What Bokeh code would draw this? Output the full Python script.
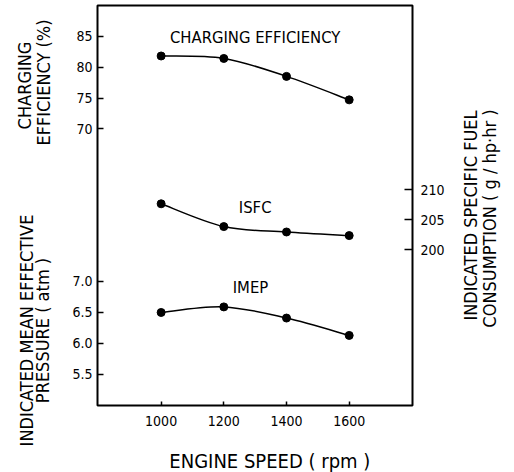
import numpy as np
from bokeh.plotting import figure
from bokeh.layouts import row, column
from bokeh.models import Range1d, LinearAxis, FixedTicker, Label
from bokeh.core.properties import value
from bokeh.embed import file_html
from bokeh.resources import INLINE

# ---- data ----
speed = [1000, 1200, 1400, 1600]
charging_eff = [81.8, 81.4, 78.5, 74.7]
isfc = [207.7, 203.9, 203.0, 202.4]
imep = [6.50, 6.59, 6.41, 6.13]
x_ticks = [1000, 1200, 1400, 1600]
ce_ticks = [70, 75, 80, 85]
imep_ticks = [5.5, 6.0, 6.5, 7.0]
isfc_ticks = [200, 205, 210]

FONT = "DejaVu Sans Condensed"
W, H = 514, 472
LW, RW = 56, 54            # side text panels
MW = W - LW - RW           # main figure width
MH, BH = 445, H - 445      # main figure height, bottom text panel height
BL, BR, BT, BB = 97 - LW, 460 - 412, 5, MH - 405

X0, X1 = 797, 1802
CE0, CE1 = 25.24, 89.97
IM0, IM1 = 5.0, 11.45
IS0, IS1 = 174.08, 240.75

p = figure(width=MW, height=MH, output_backend="svg", toolbar_location=None,
           x_range=Range1d(X0, X1), y_range=Range1d(CE0, CE1),
           min_border_left=BL, min_border_right=BR,
           min_border_top=BT, min_border_bottom=BB,
           x_axis_location=None, y_axis_location=None)
p.extra_y_ranges = {"imep": Range1d(IM0, IM1), "isfc": Range1d(IS0, IS1)}
p.grid.visible = False
p.outline_line_color = "black"
p.outline_line_width = 2
p.background_fill_color = "white"
p.border_fill_color = "white"


def style_axis(ax, tin, tout, standoff):
    ax.axis_line_color = None
    ax.major_tick_in = tin
    ax.major_tick_out = tout
    ax.major_tick_line_color = "black"
    ax.major_tick_line_width = 1.5
    ax.minor_tick_line_color = None
    ax.major_label_text_font = FONT
    ax.major_label_text_font_size = "14px"
    ax.major_label_text_color = "black"
    ax.major_label_standoff = standoff


# bottom axis
xa = LinearAxis(ticker=FixedTicker(ticks=x_ticks))
style_axis(xa, 4, 0, 10)
p.add_layout(xa, "below")


# left axis: charging efficiency ticks plus IMEP ticks mapped onto the same scale
def imep_to_ce(v):
    return CE0 + (v - IM0) / (IM1 - IM0) * (CE1 - CE0)


left_ticks = [float(v) for v in ce_ticks] + [imep_to_ce(v) for v in imep_ticks]
overrides = {float(v): str(v) for v in ce_ticks}
overrides.update({imep_to_ce(v): f"{v:.1f}" for v in imep_ticks})
ya = LinearAxis(ticker=FixedTicker(ticks=left_ticks), major_label_overrides=overrides)
style_axis(ya, 6, 0, 5)
p.add_layout(ya, "left")

# right axis: ISFC
ra = LinearAxis(y_range_name="isfc", ticker=FixedTicker(ticks=isfc_ticks))
style_axis(ra, 8, 0, 8)
p.add_layout(ra, "right")


# smooth curves (Catmull-Rom -> cubic Bezier) through the data points
def bezier_curve(xs, ys, range_name="default"):
    xs = np.asarray(xs, float)
    ys = np.asarray(ys, float)
    n = len(xs)
    xp = np.concatenate([[xs[0]], xs, [xs[-1]]])
    yp = np.concatenate([[ys[0]], ys, [ys[-1]]])
    cx0 = xp[1:n] + (xp[2:n + 1] - xp[0:n - 1]) / 6
    cy0 = yp[1:n] + (yp[2:n + 1] - yp[0:n - 1]) / 6
    cx1 = xp[2:n + 1] - (xp[3:n + 2] - xp[1:n]) / 6
    cy1 = yp[2:n + 1] - (yp[3:n + 2] - yp[1:n]) / 6
    p.bezier(x0=xs[:-1], y0=ys[:-1], x1=xs[1:], y1=ys[1:],
             cx0=cx0, cy0=cy0, cx1=cx1, cy1=cy1,
             line_color="black", line_width=1.5, y_range_name=range_name)
    p.scatter(xs, ys, size=8, color="black", y_range_name=range_name)


bezier_curve(speed, charging_eff)
bezier_curve(speed, isfc, "isfc")
bezier_curve(speed, imep, "imep")


def add_label(text, x, y, range_name="default"):
    p.add_layout(Label(x=x, y=y, text=text, y_range_name=range_name,
                       text_font=FONT, text_font_size="16.5px", text_color="black",
                       text_align="center", text_baseline="middle"))


# series labels
add_label("CHARGING EFFICIENCY", 1300, 84.8)
add_label("ISFC", 1300, 207.1, "isfc")
add_label("IMEP", 1285, 6.9, "imep")


# text panels (pixel coordinates, y measured from the top)
def text_panel(w, h, xs, ys, texts, angle, size="18px"):
    f = figure(width=w, height=h, output_backend="svg", toolbar_location=None,
               x_range=Range1d(0, w), y_range=Range1d(h, 0),
               min_border=0, x_axis_location=None, y_axis_location=None)
    f.grid.visible = False
    f.outline_line_color = None
    f.background_fill_color = "white"
    f.border_fill_color = "white"
    f.text(x=xs, y=ys, text=texts, angle=angle, text_font=value(FONT),
           text_font_size=value(size), text_color="black",
           text_align="center", text_baseline="middle")
    return f


R = np.pi / 2
left_titles = ["CHARGING", "EFFICIENCY (%)", "INDICATED MEAN EFFECTIVE", "PRESSURE ( atm )"]
right_titles = ["INDICATED SPECIFIC FUEL", "CONSUMPTION ( g / hp·hr )"]
x_title = ["ENGINE SPEED ( rpm )"]

left_fig = text_panel(LW, H, [24, 43, 26, 42], [85, 82, 330, 330], left_titles, R)
right_fig = text_panel(RW, H, [470 - (W - RW), 489 - (W - RW)], [215, 218], right_titles, R)
bottom_fig = text_panel(MW, BH, [277 - LW], [460 - MH], x_title, 0, "20px")

layout = row(left_fig, column(p, bottom_fig, spacing=0), right_fig, spacing=0)

open("out.html", "w").write(file_html(layout, INLINE))
